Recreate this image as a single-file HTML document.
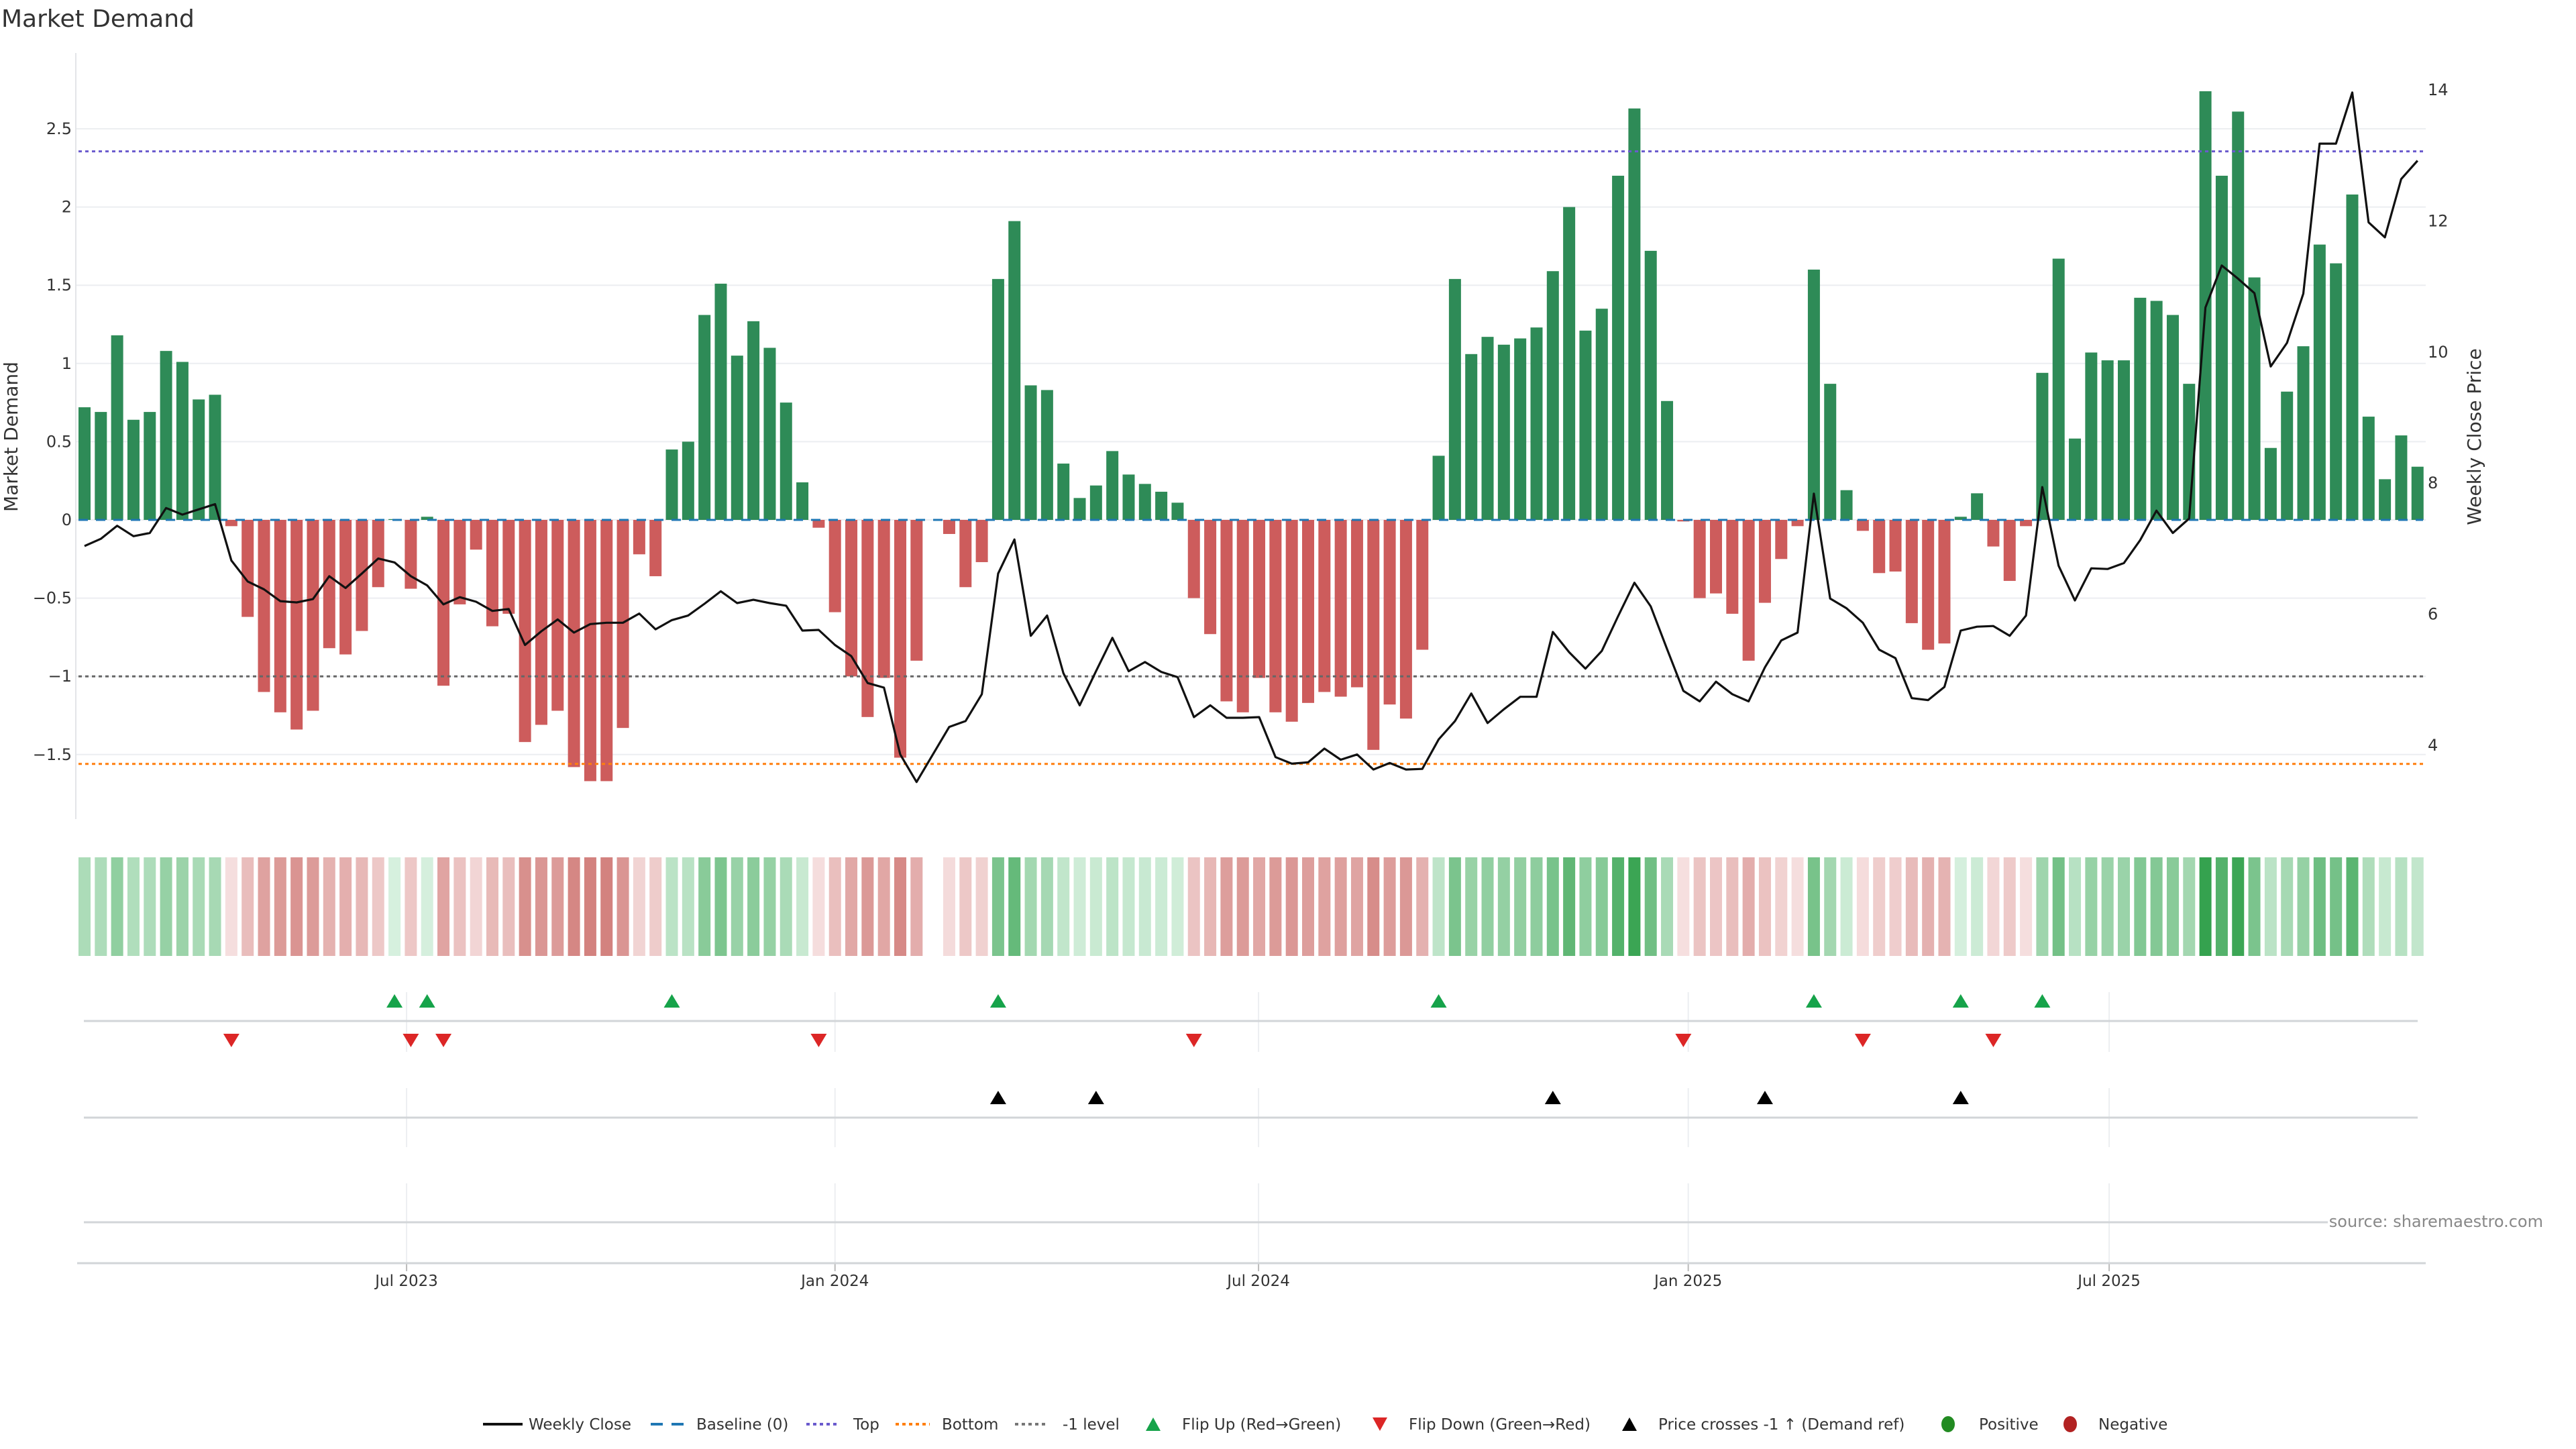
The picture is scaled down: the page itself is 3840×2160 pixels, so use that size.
<!DOCTYPE html>
<html><head><meta charset="utf-8"><style>
html,body{margin:0;padding:0;background:#fff;}
svg{display:block;font-family:"DejaVu Sans","Liberation Sans",sans-serif;}
</style></head><body>
<svg id="chart" width="3840" height="2160" viewBox="0 0 3840 2160" xmlns="http://www.w3.org/2000/svg">
<text x="2" y="40" font-size="36" fill="#333">Market Demand</text>
<g id="grid"></g><g id="bars"></g><g id="refs"></g><g id="line"></g><g id="strip"></g><g id="marks"></g><g id="axes"></g><g id="legend"></g>
</svg>
<script>
const demand = [0.72,0.69,1.18,0.64,0.69,1.08,1.01,0.77,0.80,-0.04,-0.62,-1.10,-1.23,-1.34,-1.22,-0.82,-0.86,-0.71,-0.43,0.005,-0.44,0.02,-1.06,-0.54,-0.19,-0.68,-0.60,-1.42,-1.31,-1.22,-1.58,-1.67,-1.67,-1.33,-0.22,-0.36,0.45,0.50,1.31,1.51,1.05,1.27,1.10,0.75,0.24,-0.05,-0.59,-1.00,-1.26,-1.01,-1.52,-0.90,null,-0.09,-0.43,-0.27,1.54,1.91,0.86,0.83,0.36,0.14,0.22,0.44,0.29,0.23,0.18,0.11,-0.50,-0.73,-1.16,-1.23,-1.01,-1.23,-1.29,-1.17,-1.10,-1.13,-1.07,-1.47,-1.18,-1.27,-0.83,0.41,1.54,1.06,1.17,1.12,1.16,1.23,1.59,2.00,1.21,1.35,2.20,2.63,1.72,0.76,-0.01,-0.50,-0.47,-0.60,-0.90,-0.53,-0.25,-0.04,1.60,0.87,0.19,-0.07,-0.34,-0.33,-0.66,-0.83,-0.79,0.02,0.17,-0.17,-0.39,-0.04,0.94,1.67,0.52,1.07,1.02,1.02,1.42,1.40,1.31,0.87,2.74,2.20,2.61,1.55,0.46,0.82,1.11,1.76,1.64,2.08,0.66,0.26,0.54,0.34];
const price = [7.04,7.15,7.35,7.19,7.24,7.62,7.52,7.60,7.68,6.82,6.50,6.38,6.20,6.18,6.23,6.58,6.40,6.62,6.85,6.79,6.58,6.44,6.15,6.26,6.19,6.05,6.08,5.53,5.74,5.92,5.72,5.85,5.87,5.87,6.01,5.77,5.91,5.98,6.16,6.35,6.17,6.22,6.17,6.13,5.75,5.76,5.53,5.36,4.95,4.88,3.86,3.44,3.86,4.28,4.37,4.78,6.62,7.14,5.67,5.98,5.10,4.61,5.13,5.64,5.13,5.27,5.12,5.04,4.43,4.61,4.42,4.42,4.43,3.82,3.72,3.74,3.95,3.78,3.86,3.63,3.73,3.63,3.64,4.09,4.37,4.79,4.34,4.55,4.74,4.74,5.73,5.42,5.17,5.44,5.97,6.48,6.12,5.47,4.83,4.67,4.97,4.78,4.67,5.19,5.60,5.72,7.84,6.24,6.09,5.87,5.46,5.33,4.72,4.69,4.89,5.75,5.81,5.82,5.67,5.98,7.94,6.74,6.21,6.70,6.69,6.78,7.13,7.58,7.24,7.46,10.68,11.32,11.12,10.90,9.78,10.14,10.89,13.18,13.18,13.96,11.98,11.75,12.64,12.92];
const flipUp = [19,21,36,56,83,106,115,120];
const flipDown = [9,20,22,45,68,98,109,117];
const priceCross = [56,62,90,103,115];
const demandTicks = [2.5,2,1.5,1,0.5,0,-0.5,-1,-1.5];
const priceTicks = [4,6,8,10,12,14];
const dateTickLabels = ["Jul 2023","Jan 2024","Jul 2024","Jan 2025","Jul 2025"];
const dateTickIdx = [19.74,46.0,71.96,98.3,124.1];
const topLevel = 2.356, bottomLevel = -1.56, minusOne = -1;

const NS="http://www.w3.org/2000/svg";
const X0=126, DX=24.32, L=113, R=3616;
const xs=i=>X0+DX*i;
const yv=v=>775-v*233.2;
const yp=p=>134+(14-p)*97.7;
function mk(tag,attrs,parent,text){const e=document.createElementNS(NS,tag);for(const k in attrs)e.setAttribute(k,attrs[k]);if(text!==undefined)e.textContent=text;parent.appendChild(e);return e;}
const G=id=>document.getElementById(id);

demandTicks.forEach(t=>{
  const l=mk('line',{x1:L,x2:R,y1:yv(t),y2:yv(t),stroke:'#eceef1','stroke-width':2},G('grid'));
  
  
  const tx=mk('text',{x:107,y:yv(t)+8,'font-size':24,fill:'#333','text-anchor':'end'},G('axes'),t===0?'0':String(t).replace('-','\u2212'));
  
  
});
priceTicks.forEach(t=>{
  const tx=mk('text',{x:3619,y:yp(t)+8,'font-size':24,fill:'#333'},G('axes'),String(t));
  
  
});
let ax=mk('line',{x1:L,x2:L,y1:79,y2:1221,stroke:'#e3e5e8','stroke-width':2},G('axes'));


let yt=mk('text',{x:0,y:0,'font-size':28,fill:'#333','text-anchor':'middle',transform:'translate(26,651) rotate(-90)'},G('axes'),'Market Demand');


let yt2=mk('text',{x:0,y:0,'font-size':28,fill:'#333','text-anchor':'middle',transform:'translate(3698,651) rotate(-90)'},G('axes'),'Weekly Close Price');



demand.forEach((v,i)=>{
  if(v===null)return;
  const y0=yv(0), y1=yv(v);
  const b=mk('rect',{x:xs(i)-9,y:Math.min(y0,y1),width:18,height:Math.max(Math.abs(y1-y0),1),fill:v>=0?'#2e8b57':'#cd5c5c'},G('bars'));
  
  
});
[[0,'#1f77b4','14 12',3,'baseline-line'],[topLevel,'#6a5acd','5 5',3,'top-line'],[bottomLevel,'#ff7f0e','5 5',3,'bottom-line'],[minusOne,'#666','5 5',3,'minus-one-line']].forEach(r=>{
  const l=mk('line',{x1:L+4,x2:R-4,y1:yv(r[0]),y2:yv(r[0]),stroke:r[1],'stroke-dasharray':r[2],'stroke-width':r[3]},G('refs'));
  
  
});
const pl=mk('polyline',{points:price.map((p,i)=>xs(i).toFixed(1)+','+yp(p).toFixed(1)).join(' '),fill:'none',stroke:'#111','stroke-width':3.2,'stroke-linejoin':'round'},G('line'));



function mix(a,b,t){return 'rgb('+a.map((c,k)=>Math.round(c+(b[k]-c)*t)).join(',')+')';}
demand.forEach((v,i)=>{
  if(v===null)return;
  let col;
  if(v>=0){col=mix([214,240,222],[52,162,78],Math.min(v/2.75,1));}
  else{col=mix([246,224,224],[210,128,125],Math.min(-v/1.7,1));}
  const s=mk('rect',{x:xs(i)-9,y:1278,width:18,height:147,fill:col},G('strip'));
  
  
});

dateTickIdx.forEach((d,k)=>{
  const x=xs(d);
  [[1479,1568],[1622,1710],[1764,1884]].forEach(sg=>{
    const l=mk('line',{x1:x,x2:x,y1:sg[0],y2:sg[1],stroke:'#eceef1','stroke-width':2},G('grid'));
    
    
  });
  const tk=mk('line',{x1:x,x2:x,y1:1884,y2:1895,stroke:'#bbb','stroke-width':2},G('axes'));
  
  
  const tl=mk('text',{x:x,y:1917,'font-size':23,fill:'#333','text-anchor':'middle'},G('axes'),dateTickLabels[k]);
  
  
});
[[125,3604,1522,'flip-row-line'],[125,3604,1666,'cross-row-line'],[125,3604,1822,'extra-row-line'],[115,3616,1883,'x-axis-line']].forEach(r=>{
  const l=mk('line',{x1:r[0],x2:r[1],y1:r[2],y2:r[2],stroke:'#d2d5d8','stroke-width':3},G('axes'));
  
  
});
function tri(cx,cy,up,col,name){
  const w=12,h=10;
  const pts=up?[[cx,cy-h],[cx-w,cy+h],[cx+w,cy+h]]:[[cx,cy+h],[cx-w,cy-h],[cx+w,cy-h]];
  const t=mk('polygon',{points:pts.map(p=>p.join(',')).join(' '),fill:col},G('marks'));
  
  
}
flipUp.forEach(i=>tri(xs(i),1492,true,'#16a34a','flip-up-marker'));
flipDown.forEach(i=>tri(xs(i),1551,false,'#dc2626','flip-down-marker'));
priceCross.forEach(i=>tri(xs(i),1636,true,'#000','price-cross-marker'));
let bg=mk('rect',{x:3470,y:1804,width:330,height:32,fill:'#fff'},G('axes'));


let src=mk('text',{x:3791,y:1829,'font-size':24,fill:'#888','text-anchor':'end'},G('axes'),'source: sharemaestro.com');



const LG=G('legend'), LY=2123;
function ltext(x,t){const e=mk('text',{x:x,y:LY+8,'font-size':23,fill:'#333'},LG,t);}
function lline(x1,x2,col,dash,w,name){const e=mk('line',{x1:x1,x2:x2,y1:LY,y2:LY,stroke:col,'stroke-width':w,'stroke-dasharray':dash},LG);}
lline(720,779,'#111','none',4,'legend-weekly-close');ltext(788,'Weekly Close');
lline(970,1019,'#1f77b4','18 13',4,'legend-baseline');ltext(1038,'Baseline (0)');
lline(1202,1251,'#6a5acd','5 5',4,'legend-top');ltext(1272,'Top');
lline(1335,1386,'#ff7f0e','5 5',4,'legend-bottom');ltext(1404,'Bottom');
lline(1513,1562,'#777','5 5',4,'legend-minus-one');ltext(1584,'-1 level');
(function(){
 let e=mk('polygon',{points:'1719,2113 1708,2133 1730,2133',fill:'#16a34a'},LG);
 ltext(1762,'Flip Up (Red\u2192Green)');
 e=mk('polygon',{points:'2057,2133 2046,2113 2068,2113',fill:'#dc2626'},LG);
 ltext(2100,'Flip Down (Green\u2192Red)');
 e=mk('polygon',{points:'2429,2113 2418,2133 2440,2133',fill:'#000'},LG);
 ltext(2472,'Price crosses -1 \u2191 (Demand ref)');
 e=mk('ellipse',{cx:2904,cy:LY,rx:10,ry:12,fill:'#228b22'},LG);
 ltext(2950,'Positive');
 e=mk('ellipse',{cx:3086,cy:LY,rx:10,ry:12,fill:'#b22222'},LG);
 ltext(3128,'Negative');
})();
</script>
</body></html>
